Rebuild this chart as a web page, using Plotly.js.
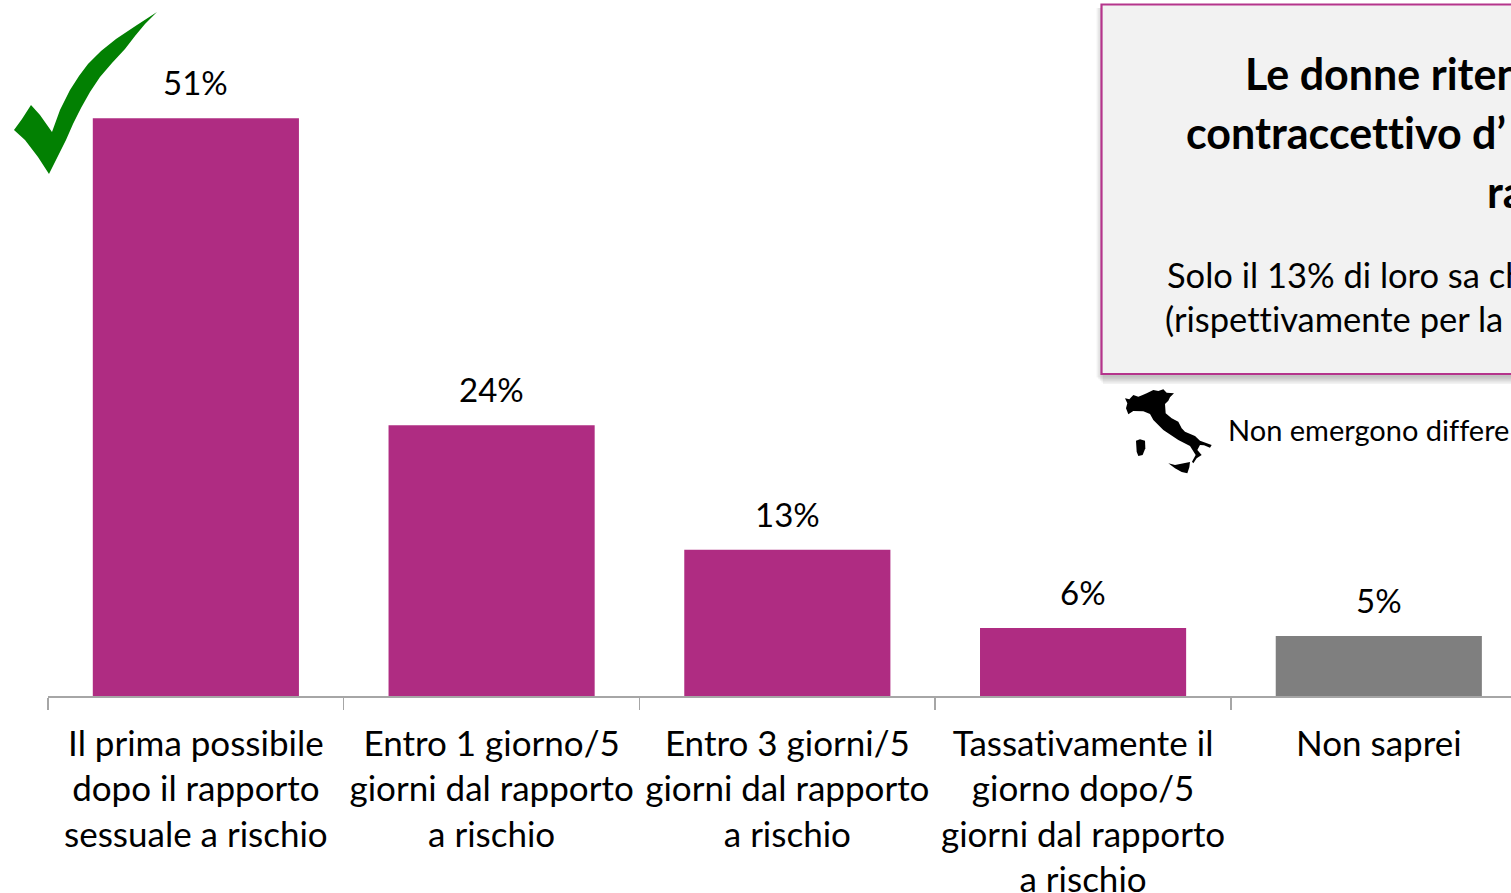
<!DOCTYPE html>
<html>
<head>
<meta charset="utf-8">
<script src="https://cdn.plot.ly/plotly-3.0.1.min.js"></script>
<style>html,body{margin:0;padding:0;background:#fff;overflow:hidden}#chart{width:1511px;height:893px}text,tspan{font-variant-ligatures:none !important;font-feature-settings:"liga" 0,"clig" 0 !important}</style>
</head>
<body>
<div id="chart"></div>
<script>
const categories = [
  "Il prima possibile<br>dopo il rapporto<br>sessuale a rischio",
  "Entro 1 giorno/5<br>giorni dal rapporto<br>a rischio",
  "Entro 3 giorni/5<br>giorni dal rapporto<br>a rischio",
  "Tassativamente il<br>giorno dopo/5<br>giorni dal rapporto<br>a rischio",
  "Non saprei"
];
const barValues = [51, 23.9, 12.9, 6, 5.3];
const valueLabels = ["51%", "24%", "13%", "6%", "5%"];
const barColors = ["#AF2C82", "#AF2C82", "#AF2C82", "#AF2C82", "#7F7F7F"];

const W = 1511, H = 893, ML = 48, MB = 197, PH = H - MB, PW = W - ML;
const FONT = "Lato, 'Open Sans', sans-serif";
const px = x => ((x - ML) / PW).toFixed(5);
const py = y => ((PH - y) / PH).toFixed(5);
const pathOf = pts => "M" + pts.map(p => px(p[0]) + "," + py(p[1])).join("L") + "Z";
const rect = (x0, y0, x1, y1, extra) => Object.assign({type:"rect", xref:"paper", yref:"paper",
  x0:px(x0), x1:px(x1), y0:py(y1), y1:py(y0), layer:"above"}, extra);

const checkIcon = [[157,12],[145,24],[135,36],[125,49],[112,63],[100,77],[90,92],[81,108],[73,124],[66,140],[57,158],[49,174],[38,157],[25,140],[14,130],[22,119],[31,105],[40,115],[52,132],[60,110],[70,90],[79,76],[88,64],[101,51],[116,39],[137,25]];
const italyMain = [[75,55],[88,58],[100,45],[115,50],[128,45],[140,40],[160,30],[175,33],[190,28],[200,38],[222,40],[210,52],[205,62],[195,72],[197,100],[215,115],[235,125],[245,145],[255,155],[285,168],[300,182],[335,195],[330,203],[312,196],[300,195],[292,210],[305,225],[290,235],[280,250],[276,245],[287,225],[270,198],[235,180],[190,150],[160,120],[150,102],[130,94],[100,93],[85,103],[78,85],[82,70]];
const italySard = [[108,182],[120,178],[135,182],[136,205],[128,225],[115,228],[110,215]];
const italySic = [[205,250],[225,255],[270,246],[268,262],[262,280],[245,276],[225,265]];
const it = pts => pts.map(p => [1100 + p[0] / 3, 380 + p[1] / 3]);
const solid = c => ({type:"path", xref:"paper", yref:"paper", fillcolor:c, line:{width:0}, layer:"above"});

const shapes = [];
for (let i = 0; i < 5; i++) {
  const d = 1.6 * i;
  shapes.push(rect(1099 - d + 4, 8, 1520, 376 + 2 + 6 - d, {fillcolor:"rgba(0,0,0,0.05)", line:{width:0}}));
}
shapes.push(rect(1101.5, 4.5, 1530, 374, {fillcolor:"#F2F2F2", line:{color:"#B5358C", width:2.2}}));
shapes.push(Object.assign(solid("#028002"), {path:pathOf(checkIcon)}));
shapes.push(Object.assign(solid("#000"), {path:pathOf(it(italyMain))}));
shapes.push(Object.assign(solid("#000"), {path:pathOf(it(italySard))}));
shapes.push(Object.assign(solid("#000"), {path:pathOf(it(italySic))}));

const txt = (text, x, y, size, bold) => ({xref:"paper", yref:"paper", x:px(x), y:py(y), text: bold ? "<b>"+text+"</b>" : text,
  showarrow:false, xanchor:"left", yanchor:"middle", align:"left", font:{family:FONT, size:size, color:"#000"}});

const annotations = [
  txt("Le donne riten", 1243, 74, 43, true),
  txt("contraccettivo d’", 1184, 133, 43, true),
  txt("ra", 1485, 191, 43, true),
  txt("Solo il 13% di loro sa ch", 1165, 274, 34.5, false),
  txt("(rispettivamente per la", 1163, 319, 34.5, false),
  txt("Non emergono differe", 1226, 429, 29, false)
];
categories.forEach((c, i) => annotations.push({x:c, y:barValues[i], xref:"x", yref:"y", yshift:36,
  text:valueLabels[i], showarrow:false, yanchor:"middle", font:{family:FONT, size:33, color:"#000"}}));

Plotly.newPlot("chart", [{
  type:"bar", x:categories, y:barValues, marker:{color:barColors, line:{width:0}}, hoverinfo:"skip"
}], {
  width:W, height:H, margin:{l:ML, r:0, t:0, b:MB, pad:0},
  paper_bgcolor:"#fff", plot_bgcolor:"#fff", bargap:0.303, showlegend:false,
  xaxis:{type:"category", categoryorder:"array", categoryarray:categories, range:[-0.5, 4.447],
    showline:true, linecolor:"#A6A6A6", linewidth:1.5, ticks:"outside", tickson:"boundaries", ticklen:12,
    tickcolor:"#A6A6A6", tickwidth:1.5, showgrid:false, zeroline:false, tickangle:0, automargin:false,
    ticklabelstandoff:16, tickfont:{family:FONT, size:35, color:"#000"}},
  yaxis:{range:[0, 61.43], visible:false, showgrid:false, zeroline:false},
  shapes, annotations
}, {displayModeBar:false, staticPlot:true});
</script>
</body>
</html>
